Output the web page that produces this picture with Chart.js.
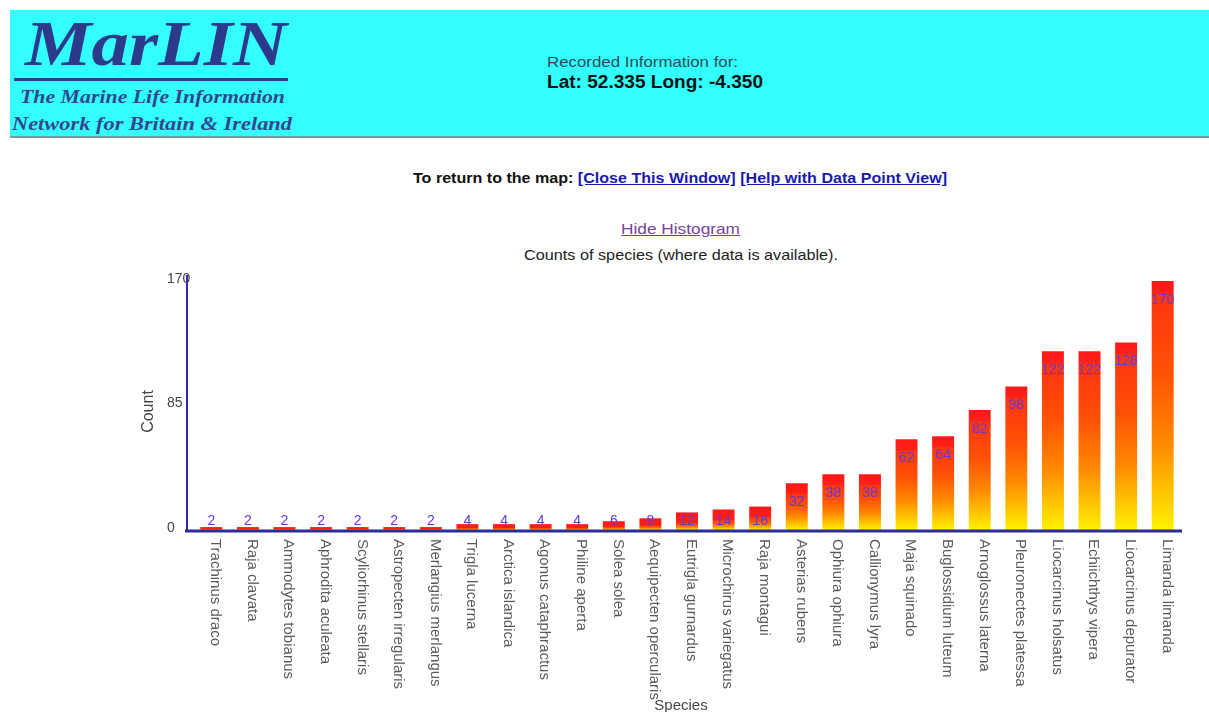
<!DOCTYPE html>
<html><head><meta charset="utf-8">
<script src="https://cdn.jsdelivr.net/npm/chart.js@4.4.0/dist/chart.umd.min.js"></script>
<style>
html,body{margin:0;padding:0;background:#fff;width:1209px;height:712px;overflow:hidden;font-family:"Liberation Sans",Arial,sans-serif;}
#hdr{position:absolute;left:10px;top:10px;width:1199px;height:126px;background:#33ffff;border-bottom:2px solid #6f9f9f;}
.t{position:absolute;white-space:nowrap;line-height:1;transform-origin:0 50%;}
.logo{font-family:"Liberation Serif","Times New Roman",serif;font-style:italic;font-weight:bold;color:#2d3a8c;}
#rule{position:absolute;left:14px;top:78px;width:274px;height:3px;background:#2d3a8c;}
a{color:#1a1aaa;text-decoration:underline;}
#cv{position:absolute;left:130px;top:265px;}
</style></head>
<body>
<div id="hdr"></div>
<div class="t logo" style="left:25px;top:12px;font-size:64px;" data-w="262">MarLIN</div>
<div id="rule"></div>
<div class="t logo" style="left:20px;top:87px;font-size:19px;color:#34468e;" data-w="265">The Marine Life Information</div>
<div class="t logo" style="left:12px;top:114px;font-size:19px;color:#34468e;" data-w="280">Network for Britain &amp; Ireland</div>
<div class="t" style="left:547px;top:54px;font-size:15px;color:#2a4c58;" data-w="191">Recorded Information for:</div>
<div class="t" style="left:547px;top:73px;font-size:18px;font-weight:bold;color:#111;" data-w="216">Lat: 52.335 Long: -4.350</div>
<div class="t" style="left:413px;top:170px;font-size:15px;font-weight:bold;color:#111;" data-w="534">To return to the map: <a>[Close This Window]</a> <a>[Help with Data Point View]</a></div>
<div class="t" style="left:621px;top:221px;font-size:15px;color:#7b3f9f;text-decoration:underline;" data-w="119">Hide Histogram</div>
<div class="t" style="left:524px;top:247px;font-size:15px;color:#222;" data-w="314">Counts of species (where data is available).</div>
<canvas id="cv" width="1070" height="447"></canvas>
<script>
const categories = ["Trachinus draco","Raja clavata","Ammodytes tobianus","Aphrodita aculeata","Scyliorhinus stellaris","Astropecten irregularis","Merlangius merlangus","Trigla lucerna","Arctica islandica","Agonus cataphractus","Philine aperta","Solea solea","Aequipecten opercularis","Eutrigla gurnardus","Microchirus variegatus","Raja montagui","Asterias rubens","Ophiura ophiura","Callionymus lyra","Maja squinado","Buglossidium luteum","Arnoglossus laterna","Pleuronectes platessa","Liocarcinus holsatus","Echiichthys vipera","Liocarcinus depurator","Limanda limanda"];
const counts = [2,2,2,2,2,2,2,4,4,4,4,6,8,12,14,16,32,38,38,62,64,82,98,122,122,128,170];
const yTickValues = [0,85,170];
const yMax = 170;

document.querySelectorAll('[data-w]').forEach(el=>{
  const w = el.getBoundingClientRect().width;
  el.style.transform = 'scaleX(' + (+el.dataset.w / w) + ')';
});

function barGradient(c){
  const ch = c.chart, y = ch.scales.y;
  if (c.type !== 'data' || !y || !ch.chartArea) return '#ff6a00';
  const top = y.getPixelForValue(c.raw), base = y.getPixelForValue(0);
  const h = Math.max(base - top, 1);
  const cap = Math.min(10 / h, 0.6);
  const g = ch.ctx.createLinearGradient(0, top, 0, base);
  g.addColorStop(0, '#ff1818');
  g.addColorStop(cap, '#ff2016');
  g.addColorStop(Math.min(cap + 0.02, 1), '#ff3410');
  g.addColorStop(Math.min(cap + (1 - cap) * 0.35, 1), '#ff5206');
  g.addColorStop(Math.min(cap + (1 - cap) * 0.65, 1), '#ff8c00');
  g.addColorStop(1, '#fff200');
  return g;
}

const decor = {
  id: 'decor',
  afterDraw(chart){
    const ctx = chart.ctx, x = chart.scales.x, y = chart.scales.y, a = chart.chartArea;
    const base = y.getPixelForValue(0);
    ctx.save();
    // axes lines
    ctx.strokeStyle = '#3024c0'; ctx.lineWidth = 2;
    ctx.beginPath(); ctx.moveTo(a.left - 6, a.top - 6); ctx.lineTo(a.left - 6, base + 1); ctx.stroke();
    ctx.strokeStyle = '#2c2c96'; ctx.lineWidth = 3;
    ctx.beginPath(); ctx.moveTo(a.left - 8, base + 1); ctx.lineTo(a.right + 1, base + 1); ctx.stroke();
    // y tick labels
    ctx.fillStyle = '#444'; ctx.font = '14px "Liberation Sans", Arial, sans-serif';
    ctx.textAlign = 'left'; ctx.textBaseline = 'middle';
    yTickValues.forEach(v => ctx.fillText(String(v), a.left - 26, y.getPixelForValue(v) - 2));
    // y title
    ctx.save();
    ctx.translate(a.left - 44, (a.top + a.bottom) / 2 + 6);
    ctx.rotate(-Math.PI / 2);
    ctx.textAlign = 'center'; ctx.textBaseline = 'middle';
    ctx.font = '16px "Liberation Sans", Arial, sans-serif'; ctx.fillStyle = '#444';
    ctx.fillText('Count', 0, 0);
    ctx.restore();
    // x labels
    ctx.font = '15px "Liberation Sans", Arial, sans-serif'; ctx.fillStyle = '#5a5a5a';
    categories.forEach((name, i) => {
      const px = x.getPixelForValue(i);
      ctx.save();
      ctx.translate(px + 4, base + 9);
      ctx.rotate(Math.PI / 2);
      ctx.textAlign = 'left'; ctx.textBaseline = 'middle';
      ctx.fillText(name, 0, 0);
      ctx.restore();
    });
    // x title
    ctx.fillStyle = '#444'; ctx.textAlign = 'center'; ctx.textBaseline = 'middle';
    ctx.font = '15px "Liberation Sans", Arial, sans-serif';
    ctx.fillText('Species', (a.left + a.right) / 2 - 6, chart.height - 6);
    // value labels
    ctx.font = '14px "Liberation Sans", Arial, sans-serif'; ctx.fillStyle = '#6438d4';
    counts.forEach((v, i) => {
      const px = x.getPixelForValue(i), top = y.getPixelForValue(v);
      ctx.fillText(String(v), px, Math.min(top + 19, base - 9));
    });
    ctx.restore();
  }
};

new Chart(document.getElementById('cv'), {
  type: 'bar',
  data: { labels: categories, datasets: [{ data: counts, backgroundColor: barGradient, borderWidth: 0, barPercentage: 0.6, categoryPercentage: 1.0 }] },
  options: {
    responsive: false, animation: false,
    layout: { padding: { top: 16, right: 19, left: 0, bottom: 0 } },
    plugins: { legend: { display: false }, tooltip: { enabled: false } },
    scales: {
      x: { offset: true, grid: { display: false }, border: { display: false }, ticks: { display: false },
           afterFit: s => { s.height = 182; } },
      y: { min: 0, max: yMax, grid: { display: false }, border: { display: false }, ticks: { display: false },
           afterBuildTicks: s => { s.ticks = yTickValues.map(v => ({ value: v })); },
           afterFit: s => { s.width = 63; } }
    }
  },
  plugins: [decor]
});
</script>
</body></html>
